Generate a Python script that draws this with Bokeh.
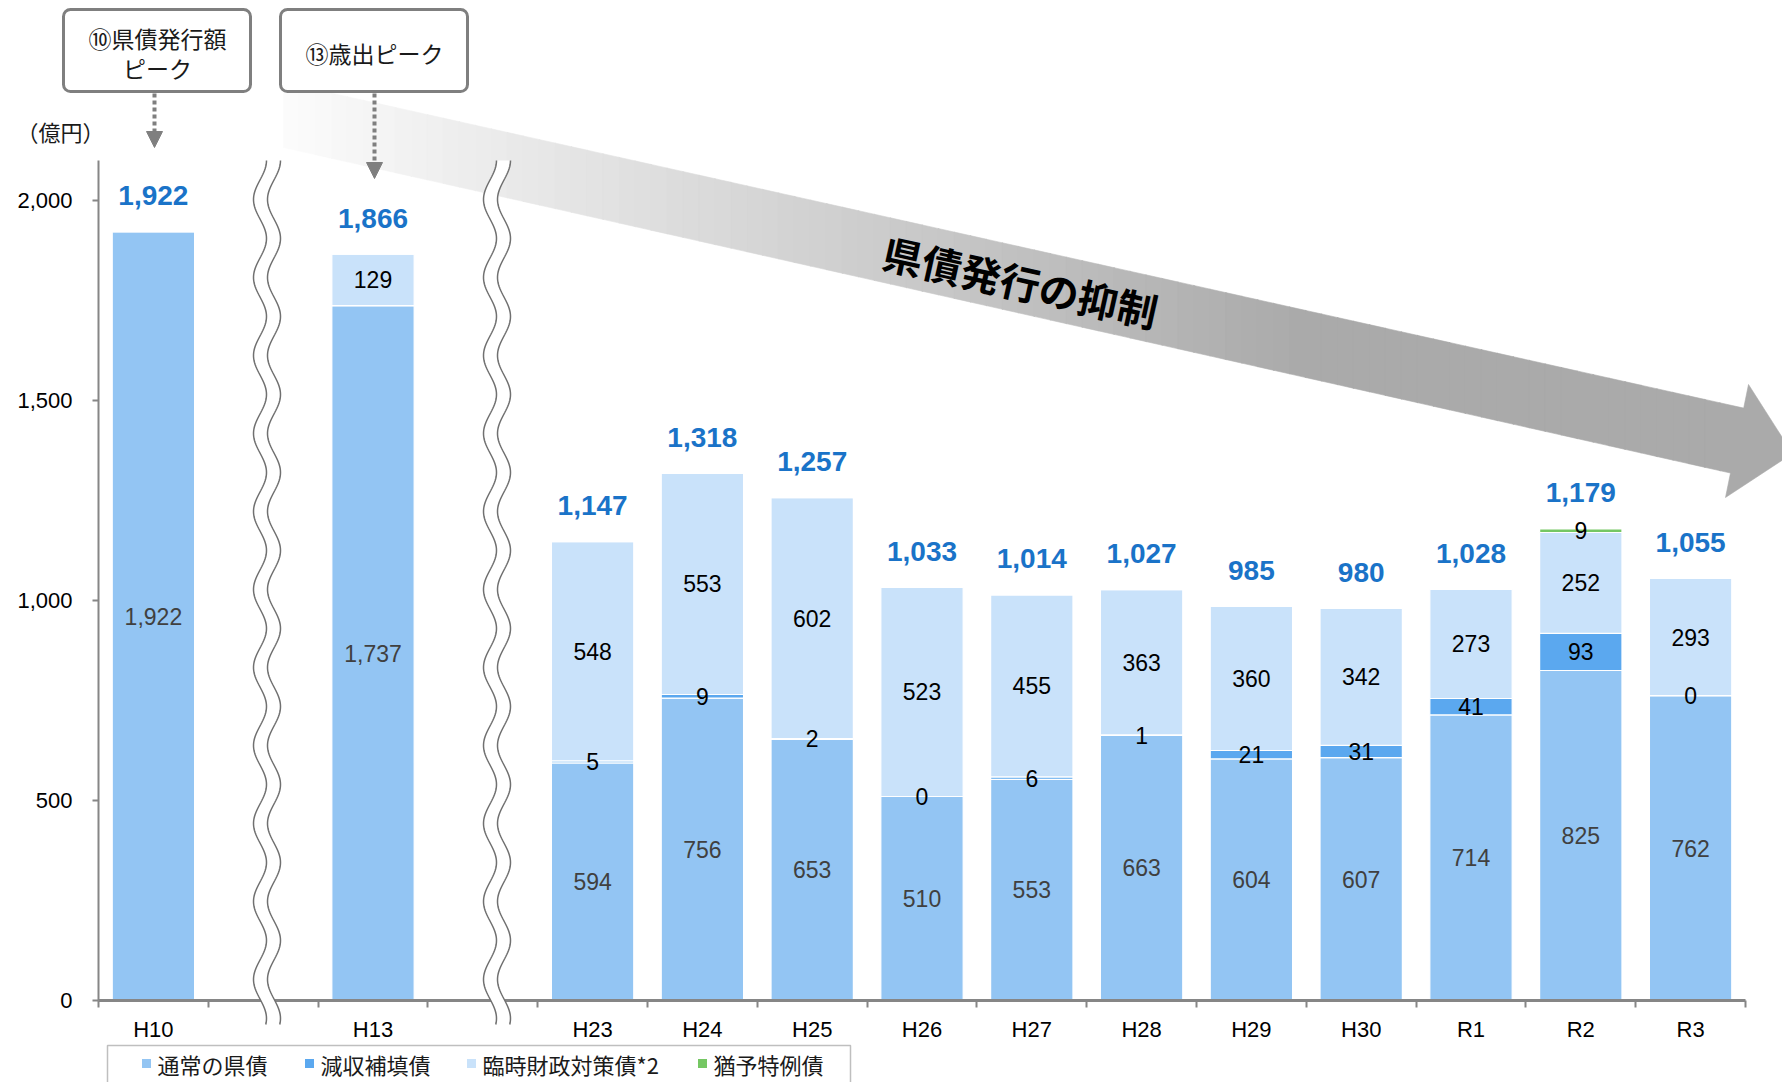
import math
from bokeh.plotting import figure
from bokeh.models import (ColumnDataSource, FixedTicker, NumeralTickFormatter, Range1d,
                          Arrow, NormalHead)
from bokeh.core.properties import value
from bokeh.embed import file_html
from bokeh.resources import INLINE

# ---------------- data ----------------
categories = ["H10", "H13", "H23", "H24", "H25", "H26", "H27", "H28", "H29", "H30", "R1", "R2", "R3"]
normal_bonds = [1922, 1737, 594, 756, 653, 510, 553, 663, 604, 607, 714, 825, 762]
revenue_comp = [0, 0, 5, 9, 2, 0, 6, 1, 21, 31, 41, 93, 0]
temp_fiscal = [0, 129, 548, 553, 602, 523, 455, 363, 360, 342, 273, 252, 293]
grace_bonds = [0, 0, 0, 0, 0, 0, 0, 0, 0, 0, 0, 9, 0]
totals = [1922, 1866, 1147, 1318, 1257, 1033, 1014, 1027, 985, 980, 1028, 1179, 1055]
series_names = ["通常の県債", "減収補填債", "臨時財政対策債*2", "猶予特例債"]
y_ticks = [0, 500, 1000, 1500, 2000]
break_after = ["H10", "H13"]          # axis breaks follow these categories
unit_label = "（億円）"
callout1 = "⑩県債発行額\nピーク"
callout2 = "⑬歳出ピーク"
arrow_text = "県債発行の抑制"

colors = ["#93C5F3", "#5BA8EF", "#C9E2FA", "#75C763"]
BLUE = "#1A73C8"
GRAY = "#868686"
JP = "Noto Sans CJK JP"
LAT = "Liberation Sans"

# slot positions (one empty slot after each break)
pos = []
s = 0
for c in categories:
    pos.append(s)
    s += 2 if c in break_after else 1
n_slots = s

# ---------------- pixel helpers (layout only) ----------------
W, H = 1782, 1082
FL, FB = 98, 1000
PXU, PYU = 109.8, 0.4


def X(px):
    return -0.5 + (px - FL) / PXU


def Y(py):
    return (FB - py) / PYU


p = figure(width=W, height=H, output_backend="svg", toolbar_location=None,
           x_range=Range1d(-0.5, X(W)), y_range=Range1d(0, Y(0)),
           min_border_left=FL, min_border_right=0, min_border_top=0, min_border_bottom=H - FB)
p.outline_line_color = None
p.grid.visible = False
p.background_fill_color = "white"
p.border_fill_color = "white"

# ---------------- big gradient arrow ----------------
def yt(x):
    return 82 + 0.223 * (x - 283)


def yb(x):
    return 147 + 0.225 * (x - 283)


def gray_at(x):
    t = min(max((x - 283) / (1300 - 283), 0), 1)
    g = int(round(252 - t * (252 - 170)))
    return "#%02x%02x%02x" % (g, g, g)


xs_a, ys_a, cs_a = [], [], []
N = 90
x0, x1 = 283, 1720
for i in range(N):
    a = x0 + (x1 - x0) * i / N
    b = x0 + (x1 - x0) * (i + 1) / N + (0.8 if i < N - 1 else 0)
    xs_a.append([X(a), X(b), X(b), X(a)])
    ys_a.append([Y(yt(a)), Y(yt(b)), Y(yb(b)), Y(yb(a))])
    cs_a.append(gray_at((a + b) / 2))
head = [(1719, yt(1719)), (1743.2, 407.6), (1748, 384), (1792, 453), (1725, 497), (1730, 472.5), (1719, yb(1719))]
xs_a.append([X(q[0]) for q in head])
ys_a.append([Y(q[1]) for q in head])
cs_a.append(gray_at(1700))
p.patches(xs_a, ys_a, fill_color=cs_a, line_color=cs_a, line_width=0.6)

p.text(x=[X(1020)], y=[Y(281)], text=[arrow_text], angle=-math.atan(0.223),
       text_align="center", text_baseline="middle", text_font=value(JP),
       text_font_size="40px", text_font_style="bold", text_color="#000000")

# ---------------- stacked bars ----------------
src = ColumnDataSource(dict(x=pos, s0=normal_bonds, s1=revenue_comp, s2=temp_fiscal, s3=grace_bonds))
rs = p.vbar_stack(["s0", "s1", "s2", "s3"], x="x", width=0.75, color=colors, source=src,
                  line_color="white", line_width=1.2)

# segment labels
lx, ly, lt, lc = [], [], [], []
series = [normal_bonds, revenue_comp, temp_fiscal, grace_bonds]
for i in range(len(categories)):
    base = 0
    for j, ser in enumerate(series):
        v = ser[i]
        show = v > 0 or (j == 1 and i >= len(break_after))
        if show:
            lx.append(pos[i])
            ly.append(base + v / 2)
            lt.append(f"{v:,}")
            lc.append("#404040" if j == 0 else "#000000")
        base += v
p.text(x=lx, y=ly, text=lt, text_color=lc, text_font=value(LAT), text_font_size="23px",
       text_align="center", text_baseline="middle")

# total labels
p.text(x=pos, y=totals, text=[f"{t:,}" for t in totals], text_color=BLUE, text_font=value(LAT),
       text_font_size="28px", text_font_style="bold", text_align="center", text_baseline="middle",
       y_offset=-36)

# ---------------- axes ----------------
p.xaxis.ticker = FixedTicker(ticks=pos, minor_ticks=[k - 0.5 for k in range(n_slots + 1)])
p.xaxis.major_label_overrides = {pp: c for pp, c in zip(pos, categories)}
p.xaxis.bounds = (-0.5, n_slots - 0.5)
p.xaxis.axis_line_color = GRAY
p.xaxis.axis_line_width = 3
p.xaxis.major_tick_out = 0
p.xaxis.major_tick_in = 0
p.xaxis.minor_tick_out = 7
p.xaxis.minor_tick_in = 0
p.xaxis.minor_tick_line_color = GRAY
p.xaxis.minor_tick_line_width = 2
p.xaxis.major_label_standoff = 9
p.xaxis.major_label_text_font = LAT
p.xaxis.major_label_text_font_size = "22px"
p.xaxis.major_label_text_color = "#000000"

p.yaxis.ticker = FixedTicker(ticks=y_ticks, minor_ticks=[])
p.yaxis.formatter = NumeralTickFormatter(format="0,0")
p.yaxis.bounds = (0, 2100)
p.yaxis.axis_line_color = GRAY
p.yaxis.axis_line_width = 2
p.yaxis.major_tick_out = 6
p.yaxis.major_tick_in = 0
p.yaxis.major_tick_line_color = GRAY
p.yaxis.major_tick_line_width = 2
p.yaxis.major_label_standoff = 20
p.yaxis.major_label_text_font = LAT
p.yaxis.major_label_text_font_size = "22px"
p.yaxis.major_label_text_color = "#000000"

# ---------------- axis break marks (drawn above the axis, not clipped) ----------------
def wave(cx):
    ys = list(range(160, 1025, 2))
    xs = [cx + 6.5 * math.cos(2 * math.pi * (y - 160) / 78) for y in ys]
    return xs, ys


for c in (266.5, 496.5):
    lxw, lyw = wave(c - 7)
    rxw, ryw = wave(c + 7)
    p.patch([X(v) for v in lxw + rxw[::-1]], [Y(v) for v in lyw + ryw[::-1]],
            fill_color="white", line_color=None, level="overlay")
    p.multi_line([[X(v) for v in lxw], [X(v) for v in rxw]], [[Y(v) for v in lyw], [Y(v) for v in ryw]],
                 line_color="#707070", line_width=1.5, level="overlay")

# ---------------- callouts ----------------
for (l, r) in ((63, 250), (280, 467)):
    p.quad(left=[X(l)], right=[X(r)], top=[Y(9)], bottom=[Y(91)], fill_color="white",
           line_color="#7F7F7F", line_width=3, border_radius=7, level="overlay")
p.text(x=[X(157), X(374)], y=[Y(52.5), Y(52)], text=[callout1, callout2], text_align="center",
       text_baseline="middle", text_font=value(JP), text_font_size="23px", text_color="#1A1A1A",
       text_line_height=0.9, level="overlay")

for ax, yend in ((154, 147), (374, 178)):
    p.add_layout(Arrow(x_start=X(ax), y_start=Y(93), x_end=X(ax), y_end=Y(yend),
                       line_color="#7F7F7F", line_width=4, line_dash="4 3",
                       end=NormalHead(size=16, fill_color="#7F7F7F", line_color="#7F7F7F", line_width=1)))

p.text(x=[X(60)], y=[Y(130)], text=[unit_label], text_align="center", text_baseline="middle",
       text_font=value(JP), text_font_size="22px", text_color="#1A1A1A", level="overlay")

# ---------------- legend (drawn below the frame) ----------------
p.quad(left=[X(107)], right=[X(850)], top=[Y(1045)], bottom=[Y(1100)], fill_color=None,
       line_color="#BFBFBF", line_width=1.5, level="overlay")
leg_sq_px = [146, 309, 471, 702]
leg_y = 1063
p.rect(x=[X(v) for v in leg_sq_px], y=[Y(leg_y)] * 4, width=9, height=9,
       width_units="screen", height_units="screen", fill_color=colors, line_color=None, level="overlay")
p.text(x=[X(v + 11) for v in leg_sq_px], y=[Y(leg_y)] * 4, text=series_names, text_align="left",
       text_baseline="middle", text_font=value(JP), text_font_size="22px", text_color="#1A1A1A",
       level="overlay")

open("out.html", "w").write(file_html(p, INLINE))
